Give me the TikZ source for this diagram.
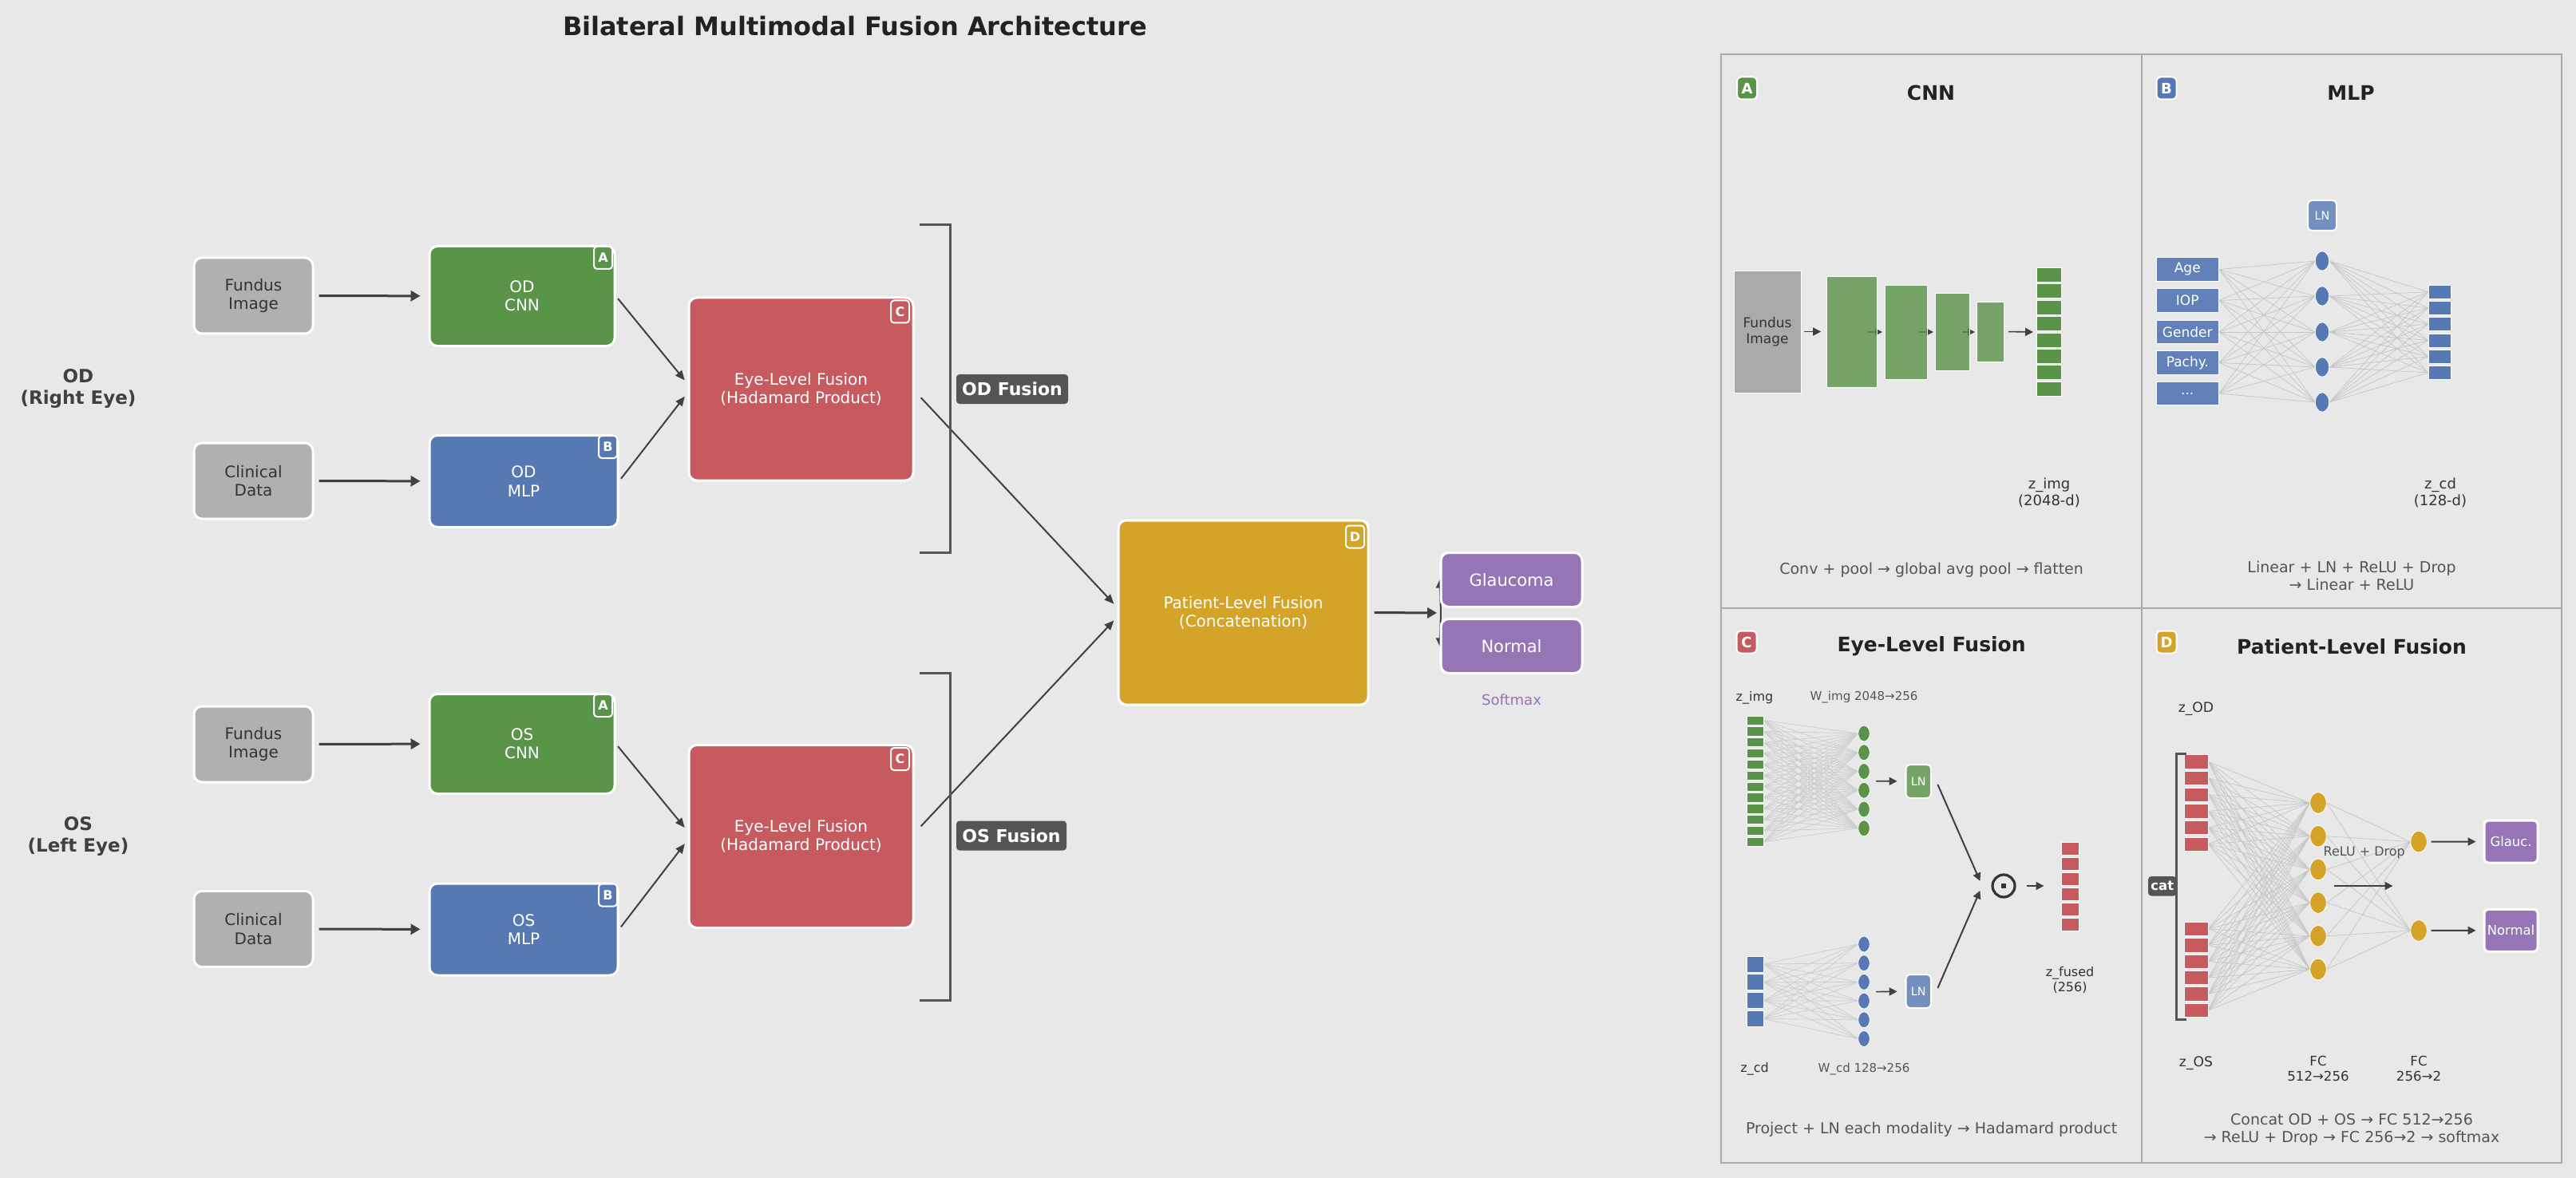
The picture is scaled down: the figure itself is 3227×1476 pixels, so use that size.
\documentclass[tikz,border=0pt]{standalone}
\usepackage{fontspec}
\setmainfont{DejaVu Sans}
\usetikzlibrary{arrows.meta,shapes.geometric}
\pgfdeclarelayer{bgzero}
\pgfdeclarelayer{behind}
\pgfsetlayers{bgzero,behind,main}
\definecolor{bgc}{HTML}{E8E8E8}
\definecolor{cgreen}{HTML}{5A9448}
\definecolor{cblue}{HTML}{5779B3}
\definecolor{cred}{HTML}{C65A5E}
\definecolor{cgold}{HTML}{D4A428}
\definecolor{cpurple}{HTML}{9575B5}
\definecolor{cgray}{HTML}{B0B0B0}
\definecolor{cgraytwo}{HTML}{AAAAAA}
\definecolor{arrc}{HTML}{404040}
\definecolor{labc}{HTML}{555555}
\definecolor{txtc}{HTML}{333333}
\definecolor{titc}{HTML}{222222}
\definecolor{lgreen}{HTML}{74A466}
\definecolor{lblue}{HTML}{7490C0}
\definecolor{inblue}{HTML}{6281B9}
\definecolor{wirec}{HTML}{C6C6C6}
\definecolor{framec}{HTML}{AAAAAA}
\newcommand\fs[1]{\fontsize{#1}{\fpeval{#1*1.16}}\selectfont}
\tikzset{
 lbox/.style={draw=white, line width=1.5pt, rounded corners=5pt, inner sep=0pt, align=center, font=\fs{10}},
 badge/.style={draw=white, line width=1pt, rounded corners=2pt, inner sep=0pt, minimum width=11.5pt, minimum height=14pt, text=white, font=\bfseries\fs{8}},
 pbadge/.style={draw=white, line width=1pt, rounded corners=2.5pt, inner sep=0pt, minimum width=12.5pt, minimum height=14pt, text=white, font=\bfseries\fs{9}},
 thickarr/.style={draw=arrc, line width=1.5pt, -{Triangle[length=6pt,width=6.5pt]}},
 thinarr/.style={draw=arrc, line width=1pt, -{Triangle[length=6pt,width=5pt]}},
 smallarr/.style={draw=arrc, line width=0.8pt, -{Triangle[length=5pt,width=5pt]}},
 tagbox/.style={fill=labc, rounded corners=2pt, text=white, font=\bfseries\fs{11}, inner sep=0pt},
 brk/.style={draw=labc, line width=1.5pt},
 cell/.style={draw=white, line width=0.4pt, inner sep=0pt},
 neuron/.style={ellipse, draw=white, line width=0.4pt, inner sep=0pt},
 wire/.style={draw=wirec, line width=0.35pt},
 frame/.style={draw=framec, line width=1pt},
 ptitle/.style={font=\bfseries\fs{12.5}, text=titc},
 captxt/.style={font=\fs{9.5}, text=labc, align=center},
 lab/.style={font=\fs{9}, text=txtc, align=center},
 slab/.style={font=\fs{8}, text=txtc, align=center},
 wlab/.style={font=\fs{7.5}, text=labc, align=center},
 lnbox/.style={draw=white, line width=1pt, rounded corners=2.5pt, inner sep=0pt, text=white, font=\fs{7.2}},
 fundsz/.style={minimum width=74.5pt, minimum height=47.5pt},
 cnnsz/.style={minimum width=116pt, minimum height=62.5pt},
 mlpsz/.style={minimum width=118pt, minimum height=57.5pt},
 eyesz/.style={minimum width=140.5pt, minimum height=114.5pt},
 outsz/.style={minimum width=88.5pt, minimum height=34pt, font=\fs{10.5}},
}
\begin{document}
\begin{tikzpicture}[x=0.5pt,y=-0.5pt]
\begin{pgfonlayer}{bgzero}
\fill[bgc] (0,0) rectangle (3227,1476);
\end{pgfonlayer}
\useasboundingbox (0,0) rectangle (3227,1476);

% ---------------- title
\node[font=\bfseries\fs{16}, text=titc] (title) at (1071,33) {Bilateral Multimodal Fusion Architecture};

% ---------------- left: eye labels
\node[font=\bfseries\fs{11.5}, text=arrc, align=center] (odlab) at (98,487) {OD\\(Right Eye)};
\node[font=\bfseries\fs{11.5}, text=arrc, align=center] (oslab) at (98,1048) {OS\\(Left Eye)};

% ---------------- OD branch
\node[lbox, fundsz, fill=cgray, text=txtc] (fundOD) at (317.5,370.5) {Fundus\\Image};
\node[lbox, fundsz, fill=cgray, text=txtc] (clinOD) at (317.5,602.5) {Clinical\\Data};
\node[lbox, cnnsz, fill=cgreen, text=white] (cnnOD) at (654,371) {OD\\CNN};
\node[lbox, mlpsz, fill=cblue, text=white] (mlpOD) at (656,603) {OD\\MLP};
\node[lbox, eyesz, fill=cred, text=white] (eyeOD) at (1003.5,487.5) {Eye-Level Fusion\\(Hadamard Product)};
\node[badge, fill=cgreen] (cnnODb) at ([xshift=-8pt,yshift=-8pt]cnnOD.north east) {A};
\node[badge, fill=cblue] (mlpODb) at ([xshift=-7pt,yshift=-8pt]mlpOD.north east) {B};
\node[badge, fill=cred] (eyeODb) at ([xshift=-9pt,yshift=-9.5pt]eyeOD.north east) {C};

% ---------------- OS branch
\node[lbox, fundsz, fill=cgray, text=txtc] (fundOS) at (317.5,932.5) {Fundus\\Image};
\node[lbox, fundsz, fill=cgray, text=txtc] (clinOS) at (317.5,1164) {Clinical\\Data};
\node[lbox, cnnsz, fill=cgreen, text=white] (cnnOS) at (654,932) {OS\\CNN};
\node[lbox, mlpsz, fill=cblue, text=white] (mlpOS) at (656,1164.5) {OS\\MLP};
\node[lbox, eyesz, fill=cred, text=white] (eyeOS) at (1003.5,1048) {Eye-Level Fusion\\(Hadamard Product)};
\node[badge, fill=cgreen] (cnnOSb) at ([xshift=-8pt,yshift=-8pt]cnnOS.north east) {A};
\node[badge, fill=cblue] (mlpOSb) at ([xshift=-7pt,yshift=-8pt]mlpOS.north east) {B};
\node[badge, fill=cred] (eyeOSb) at ([xshift=-9pt,yshift=-9.5pt]eyeOS.north east) {C};

% ---------------- patient fusion and outputs
\node[lbox, minimum width=156.5pt, minimum height=115.5pt, fill=cgold, text=white] (patient) at (1557.5,767.5) {Patient-Level Fusion\\(Concatenation)};
\node[badge, fill=cgold] (patientb) at ([xshift=-9pt,yshift=-11pt]patient.north east) {D};
\node[lbox, outsz, fill=cpurple, text=white] (glauc) at (1893.5,726.5) {Glaucoma};
\node[lbox, outsz, fill=cpurple, text=white] (normal) at (1893.5,809.5) {Normal};
\node[font=\fs{9}, text=cpurple] (softmax) at (1893.5,877) {Softmax};
\coordinate (split) at (1805,768);

% ---------------- arrows (left)
\draw[thickarr, shorten <=3pt, shorten >=5pt] (fundOD) -- (cnnOD);
\draw[thickarr, shorten <=3pt, shorten >=5pt] (clinOD) -- (mlpOD);
\draw[thickarr, shorten <=3pt, shorten >=5pt] (fundOS) -- (cnnOS);
\draw[thickarr, shorten <=3pt, shorten >=5pt] (clinOS) -- (mlpOS);
\draw[thinarr, shorten <=2pt, shorten >=3pt] (cnnOD.east) -- ([yshift=3.2pt]eyeOD.west);
\draw[thinarr, shorten <=2pt, shorten >=3pt] (mlpOD.east) -- ([yshift=-2.2pt]eyeOD.west);
\draw[thinarr, shorten <=2pt, shorten >=3pt] (cnnOS.east) -- ([yshift=3.2pt]eyeOS.west);
\draw[thinarr, shorten <=2pt, shorten >=3pt] (mlpOS.east) -- ([yshift=-2.2pt]eyeOS.west);
\draw[thinarr, shorten <=6pt, shorten >=3pt] ([yshift=-1pt]eyeOD.east) -- ([yshift=3.2pt]patient.west);
\draw[thinarr, shorten <=6pt, shorten >=3pt] ([yshift=2pt]eyeOS.east) -- ([yshift=-2.8pt]patient.west);
\draw[thickarr, shorten <=3pt, shorten >=2.5pt] (patient.east) -- (split);
\begin{pgfonlayer}{behind}
\draw[smallarr, line width=1pt] (split) -- (glauc.west);
\draw[smallarr, line width=1pt] (split) -- (normal.west);
\end{pgfonlayer}

% ---------------- brackets and fusion tags
\draw[brk] (1152,282) -- (1190,282) -- (1190,692) -- (1152,692);
\draw[brk] (1152,843) -- (1190,843) -- (1190,1253) -- (1152,1253);
\node[tagbox, minimum width=70pt, minimum height=18.5pt] (odfus) at (1268,487.5) {OD Fusion};
\node[tagbox, minimum width=69pt, minimum height=18.5pt] (osfus) at (1267,1047) {OS Fusion};

% ================= right panels
\draw[frame] (2156,68) rectangle (3209,1457);
\draw[frame] (2683,68) -- (2683,1457);
\draw[frame] (2156,762) -- (3209,762);

% ---------- panel A: CNN
\node[pbadge, fill=cgreen] (pa) at (2188.5,110.5) {A};
\node[ptitle] (pat) at (2419,116) {CNN};
\node[cell, fill=cgraytwo, text=txtc, font=\fs{8.5}, align=center, minimum width=42pt, minimum height=76.5pt] (fimg) at (2214,415.5) {Fundus\\Image};
\begin{pgfonlayer}{behind}
\coordinate (ca1) at (2340,416);
\coordinate (ca2) at (2358,416);
\coordinate (cb1) at (2404,416);
\coordinate (cb2) at (2422,416);
\coordinate (cc1) at (2458,416);
\coordinate (cc2) at (2474,416);
\draw[smallarr, line width=0.7pt, -{Triangle[length=4.5pt,width=4.5pt]}] (ca1) -- (ca2);
\draw[smallarr, line width=0.7pt, -{Triangle[length=4.5pt,width=4.5pt]}] (cb1) -- (cb2);
\draw[smallarr, line width=0.7pt, -{Triangle[length=4.5pt,width=4.5pt]}] (cc1) -- (cc2);
\end{pgfonlayer}
\node[cell, fill=cgreen, fill opacity=0.8, minimum width=31.5pt, minimum height=69.5pt] (cv1) at (2319.5,415.5) {};
\node[cell, fill=cgreen, fill opacity=0.8, minimum width=26.5pt, minimum height=59pt] (cv2) at (2387.5,416) {};
\node[cell, fill=cgreen, fill opacity=0.8, minimum width=21.75pt, minimum height=48.5pt] (cv3) at (2445.75,415.5) {};
\node[cell, fill=cgreen, fill opacity=0.8, minimum width=17.25pt, minimum height=37.5pt] (cv4) at (2493.25,415.5) {};
\draw[smallarr, shorten <=2pt, shorten >=3.2pt] (fimg) -- (cv1);
\foreach \i in {0,...,7} {
  \node[cell, fill=cgreen, minimum width=15.75pt, minimum height=9pt] (za\i) at (2566.75,{344.2+20.44*\i}) {};
}
\coordinate (zain) at (2547,416);
\draw[smallarr, shorten <=2.5pt] (cv4.east) -- (zain);
\node[lab] (zimgA) at (2567,617) {z\_img\\(2048-d)};
\node[captxt] (capA) at (2419.6,714.5) {Conv + pool → global avg pool → flatten};

% ---------- panel B: MLP
\node[pbadge, fill=cblue] (pb) at (2714,110.5) {B};
\node[ptitle] (pbt) at (2945,116) {MLP};
\node[lnbox, fill=lblue, minimum width=18pt, minimum height=19pt] (lnB) at (2909,270) {LN};
\node[cell, fill=inblue, text=white, font=\fs{8.5}, minimum width=39.25pt, minimum height=14.75pt] (in1) at (2740.25,337.5) {Age};
\node[cell, fill=inblue, text=white, font=\fs{8.5}, minimum width=39.25pt, minimum height=14.75pt] (in2) at (2740.25,376.5) {IOP};
\node[cell, fill=inblue, text=white, font=\fs{8.5}, minimum width=39.25pt, minimum height=14.75pt] (in3) at (2740.25,416) {Gender};
\node[cell, fill=inblue, text=white, font=\fs{8.5}, minimum width=39.25pt, minimum height=14.75pt] (in4) at (2740.25,454.5) {Pachy.};
\node[cell, fill=inblue, text=white, font=\fs{8.5}, minimum width=39.25pt, minimum height=14.75pt] (in5) at (2740.25,493) {...};
\foreach \y [count=\i] in {327,371,416,460,504} {
  \node[neuron, fill=cblue, minimum width=8.7pt, minimum height=12.2pt] (hb\i) at (2909,\y) {};
}
\foreach \i in {1,...,6} {
  \node[cell, fill=cblue, minimum width=14pt, minimum height=8.5pt] (ob\i) at (3056,{345.5+20.25*\i}) {};
}
\begin{pgfonlayer}{behind}
\foreach \i in {1,...,5} {\foreach \j in {1,...,5} {\draw[wire] (in\i.east) -- (hb\j.west);}}
\foreach \i in {1,...,5} {\foreach \j in {1,...,6} {\draw[wire] (hb\i.east) -- (ob\j.west);}}
\end{pgfonlayer}
\node[lab] (zcdB) at (3057,617) {z\_cd\\(128-d)};
\node[captxt] (capB) at (2946,721) {Linear + LN + ReLU + Drop\\→ Linear + ReLU};

% ---------- panel C: Eye-level fusion
\node[pbadge, fill=cred] (pc) at (2188,804.5) {C};
\node[ptitle] (pct) at (2419.6,810) {Eye-Level Fusion};
\node[slab] (zimgC) at (2198,874) {z\_img};
\node[wlab] (wimg) at (2335,874) {W\_img 2048→256};
\foreach \i in {0,...,11} {
  \node[cell, fill=cgreen, minimum width=10.5pt, minimum height=5.6pt] (gv\i) at (2198.5,{902.5+13.85*\i}) {};
}
\foreach \i in {0,...,5} {
  \node[neuron, fill=cgreen, minimum width=7.3pt, minimum height=10pt] (gn\i) at (2335,{919+23.75*\i}) {};
}
\foreach \i in {0,...,3} {
  \node[cell, fill=cblue, minimum width=10.5pt, minimum height=10pt] (bv\i) at (2198.5,{1208+22.85*\i}) {};
}
\foreach \i in {0,...,5} {
  \node[neuron, fill=cblue, minimum width=7.3pt, minimum height=10pt] (bn\i) at (2335,{1183+23.7*\i}) {};
}
\begin{pgfonlayer}{behind}
\foreach \i in {0,...,11} {\foreach \j in {0,...,5} {\draw[wire, draw=wirec!80!bgc] (gv\i.east) -- (gn\j.west);}}
\foreach \i in {0,...,3} {\foreach \j in {0,...,5} {\draw[wire, draw=wirec!80!bgc] (bv\i.east) -- (bn\j.west);}}
\end{pgfonlayer}
\node[lnbox, fill=lgreen, minimum width=15.7pt, minimum height=21pt] (lng) at (2403.3,979) {LN};
\node[lnbox, fill=lblue, minimum width=15.7pt, minimum height=21pt] (lnb) at (2403.3,1242) {LN};
\coordinate (gout) at (2350,978.7);
\coordinate (bout) at (2350,1242.6);
\draw[smallarr, shorten >=5pt] (gout) -- (lng);
\draw[smallarr, shorten >=5pt] (bout) -- (lnb);
\node[circle, draw=txtc, line width=1.6pt, minimum size=14pt, inner sep=0pt] (odot) at (2510,1110) {};
\node[fill=txtc, minimum size=2.6pt, inner sep=0pt] (odotc) at (odot.center) {};
\draw[smallarr, line width=1pt] ([xshift=3.7pt,yshift=-2pt]lng.east) -- ([xshift=-7pt,yshift=3.1pt]odot.west);
\draw[smallarr, line width=1pt] ([xshift=3.7pt,yshift=2pt]lnb.east) -- ([xshift=-7pt,yshift=-3pt]odot.west);
\foreach \i in {0,...,5} {
  \node[cell, fill=cred, minimum width=11.25pt, minimum height=8pt] (rv\i) at (2593.25,{1063.2+19*\i}) {};
}
\coordinate (zfin) at (2560.5,1110);
\draw[smallarr, shorten <=6.5pt] (odot.east) -- (zfin);
\node[slab] (zfused) at (2593,1228) {z\_fused\\(256)};
\node[slab] (zcdC) at (2198,1339.5) {z\_cd};
\node[wlab] (wcd) at (2335,1339.5) {W\_cd 128→256};
\node[captxt] (capC) at (2419.6,1415) {Project + LN each modality → Hadamard product};

% ---------- panel D: Patient-level fusion
\node[pbadge, fill=cgold] (pd) at (2714,804.5) {D};
\node[ptitle] (pdt) at (2946,810) {Patient-Level Fusion};
\node[slab, font=\fs{8.6}] (zod) at (2751,888) {z\_OD};
\node[slab, font=\fs{8.6}] (zos) at (2751,1332) {z\_OS};
\foreach \i in {0,...,5} {
  \node[cell, fill=cred, minimum width=15pt, minimum height=8.7pt] (rd\i) at (2751,{954.3+20.67*\i}) {};
  \node[cell, fill=cred, minimum width=15pt, minimum height=8.7pt] (rs\i) at (2751,{1163.9+20.4*\i}) {};
}
\foreach \i in {0,...,5} {
  \node[neuron, fill=cgold, minimum width=10.3pt, minimum height=13.4pt] (yn\i) at (2904,{1006+41.7*\i}) {};
}
\node[neuron, fill=cgold, minimum width=10.3pt, minimum height=13.4pt] (yo0) at (3030,1054.6) {};
\node[neuron, fill=cgold, minimum width=10.3pt, minimum height=13.4pt] (yo1) at (3030,1166) {};
\begin{pgfonlayer}{behind}
\foreach \i in {0,...,5} {\foreach \j in {0,...,5} {
  \draw[wire] (rd\i.east) -- (yn\j.west);
  \draw[wire] (rs\i.east) -- (yn\j.west);}}
\foreach \i in {0,...,5} {\draw[wire] (yn\i.east) -- (yo0.west); \draw[wire] (yn\i.east) -- (yo1.west);}
\end{pgfonlayer}
\draw[brk] (2738.5,944) -- (2726.5,944) -- (2726.5,1277) -- (2738.5,1277);
\node[tagbox, font=\bfseries\fs{8.2}, minimum width=17.75pt, minimum height=12.25pt] (cat) at (2708.75,1110.25) {cat};
\node[font=\fs{8}, text=labc] (relu) at (2961.7,1068) {ReLU + Drop};
\coordinate (ra) at (2924,1110);
\coordinate (rb) at (2997.5,1110);
\draw[smallarr, line width=1pt] (ra) -- (rb);
\node[lnbox, fill=cpurple, line width=1.5pt, minimum width=33.5pt, minimum height=26.5pt, font=\fs{8.2}] (gl) at (3145.5,1054.5) {Glauc.};
\node[lnbox, fill=cpurple, line width=1.5pt, minimum width=33.5pt, minimum height=26.5pt, font=\fs{8.2}] (nm) at (3145.5,1165.8) {Normal};
\draw[smallarr, line width=1pt, shorten <=2.4pt, shorten >=4.5pt] (yo0) -- (gl);
\draw[smallarr, line width=1pt, shorten <=2.4pt, shorten >=4.5pt] (yo1) -- (nm);
\node[slab, font=\fs{8.3}] (fc1) at (2904,1339) {FC\\512→256};
\node[slab, font=\fs{8.3}] (fc2) at (3030,1339) {FC\\256→2};
\node[captxt] (capD) at (2946,1415) {Concat OD + OS → FC 512→256\\→ ReLU + Drop → FC 256→2 → softmax};
\end{tikzpicture}
\end{document}
